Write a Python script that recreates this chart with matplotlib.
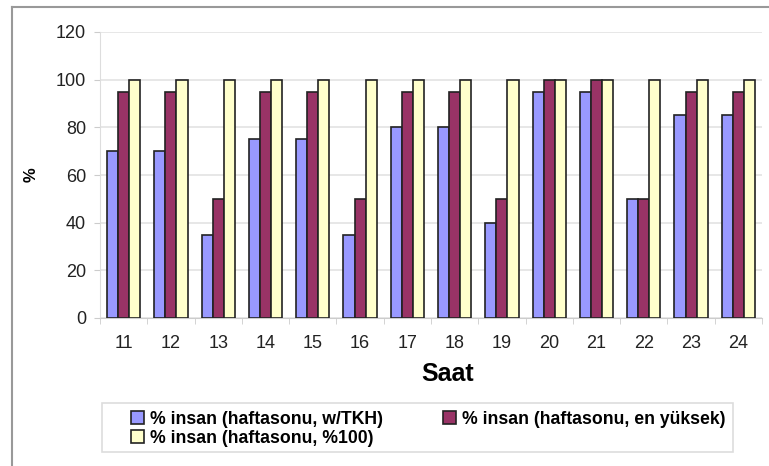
import numpy as np
import matplotlib.pyplot as plt
from matplotlib.lines import Line2D
from matplotlib.patches import Rectangle

plt.rcParams['font.family'] = ['Liberation Sans', 'DejaVu Sans']

# data
hours = ['11', '12', '13', '14', '15', '16', '17', '18', '19', '20', '21', '22', '23', '24']
tkh = [70, 70, 35, 75, 75, 35, 80, 80, 40, 95, 95, 50, 85, 85]
highest = [95, 95, 50, 95, 95, 50, 95, 95, 50, 100, 100, 50, 95, 95]
full = [100, 100, 100, 100, 100, 100, 100, 100, 100, 100, 100, 100, 100, 100]

labels = ['% insan (haftasonu, w/TKH)',
          '% insan (haftasonu, en yüksek)',
          '% insan (haftasonu, %100)']
colors = ['#9999FF', '#993366', '#FFFFCC']

W, H = 769, 466
fig = plt.figure(figsize=(W / 100, H / 100), dpi=100)
ax = fig.add_axes([100 / W, 1 - 318 / H, 662 / W, 286 / H])

x = np.arange(len(hours))
bw = 0.235
bars = []
for i, vals in enumerate([tkh, highest, full]):
    b = ax.bar(x + (i - 1) * bw, vals, bw, color=colors[i],
               edgecolor='#222222', linewidth=1.2, zorder=3, label=labels[i])
    bars.append(b)

ax.set_xlim(-0.5, len(hours) - 0.5)
ax.set_ylim(0, 120)
ax.set_yticks(range(0, 121, 20))
ax.set_xticks(x)
ax.set_xticklabels(hours)
ax.set_xticks(np.arange(-0.5, len(hours)), minor=True)
ax.tick_params(axis='x', which='major', length=0, pad=12, labelsize=13, colors='#222222')
ax.tick_params(axis='x', which='minor', length=4, color='#cccccc')
ax.tick_params(axis='y', length=4, color='#cccccc', labelsize=13, labelcolor='#222222', pad=6)
ax.grid(axis='y', color='#e3e3e3', linewidth=1.2, zorder=0)

for s in ['top', 'right']:
    ax.spines[s].set_visible(False)
ax.spines['left'].set_color('#dddddd')
ax.spines['bottom'].set_color('#cccccc')

ax.set_xlabel('Saat', fontsize=18, fontweight='bold')
ax.xaxis.set_label_coords(0.525, -0.155)
ax.set_ylabel('%', fontsize=12, fontweight='bold')
ax.yaxis.set_label_coords(-0.093, 0.5)

# outer chart frame
fig.add_artist(Line2D([12 / W, 12 / W], [0, 1 - 7 / H], color='#999999', linewidth=1.5))
fig.add_artist(Line2D([12 / W, 1], [1 - 7 / H, 1 - 7 / H], color='#999999', linewidth=1.5))

# legend box and its two columns
fig.add_artist(Rectangle((102 / W, 1 - 452 / H), 631 / W, 49 / H, fill=False,
                         edgecolor='#dddddd', linewidth=1.2, transform=fig.transFigure))
leg_kw = dict(frameon=False, prop={'size': 12.7, 'weight': 'bold'},
              handlelength=0.75, handleheight=0.75, handletextpad=0.3,
              borderpad=0, borderaxespad=0, labelspacing=0.1)
leg1 = fig.legend([bars[0], bars[2]], [labels[0], labels[2]], loc='upper left',
                  bbox_to_anchor=(131 / W, 1 - 411 / H), **leg_kw)
leg2 = fig.legend([bars[1]], [labels[1]], loc='upper left',
                  bbox_to_anchor=(443 / W, 1 - 411 / H), **leg_kw)

fig.savefig('out.png', dpi=100)
